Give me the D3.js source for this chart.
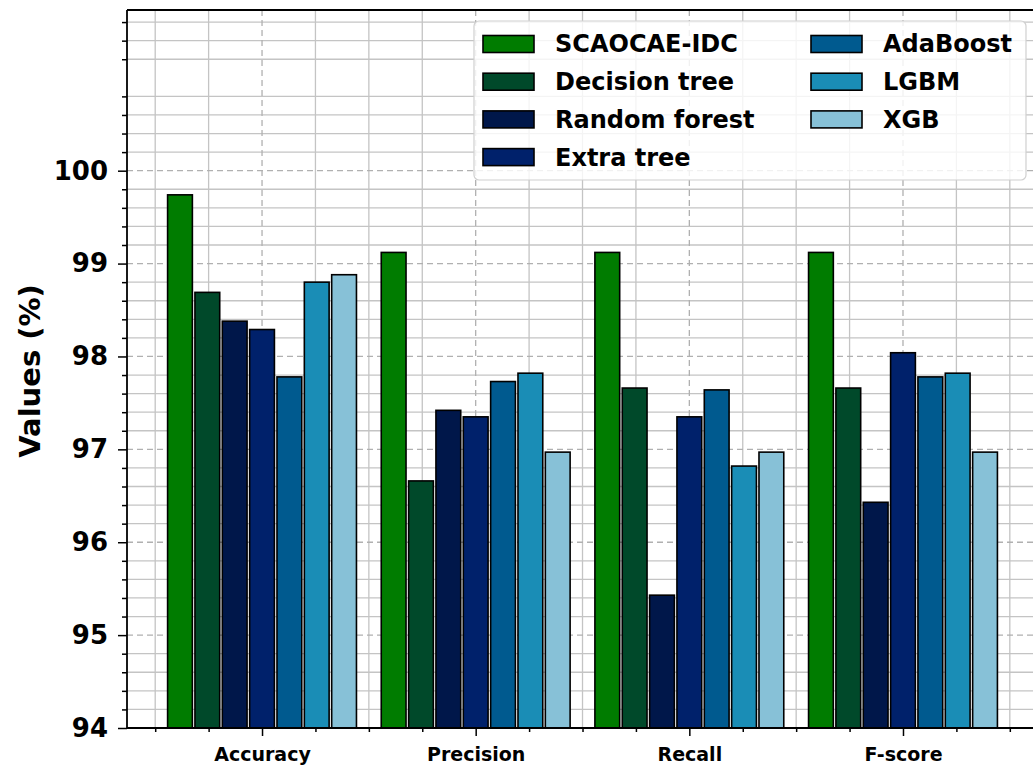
<!DOCTYPE html>
<html>
<head>
	<title>Model comparison bars</title>
	<script type="text/javascript" src="https://d3js.org/d3.v7.min.js"></script>
	<style>
		body { margin: 0; background: #fff; }
		svg text { font-family: "DejaVu Sans", sans-serif; font-weight: bold; fill: #000; }
	</style>
</head>
<body>
<svg id="chart" width="1033" height="766"></svg>

<script type="text/javascript">
// data
var categories = ["Accuracy", "Precision", "Recall", "F-score"];
var models = ["SCAOCAE-IDC", "Decision tree", "Random forest", "Extra tree", "AdaBoost", "LGBM", "XGB"];
var colors = ["#007c00", "#00492a", "#00174a", "#00216b", "#005a8f", "#1a8db6", "#87c1d7"];

var scaocae      = [99.74, 99.12, 99.12, 99.12];
var decisionTree = [98.69, 96.66, 97.66, 97.66];
var randomForest = [98.38, 97.42, 95.43, 96.43];
var extraTree    = [98.29, 97.35, 97.35, 98.04];
var adaBoost     = [97.78, 97.73, 97.64, 97.78];
var lgbm         = [98.80, 97.82, 96.82, 97.82];
var xgb          = [98.88, 96.97, 96.97, 96.97];

var yTicks = [94, 95, 96, 97, 98, 99, 100];

var series = [scaocae, decisionTree, randomForest, extraTree, adaBoost, lgbm, xgb];

var plotLeft = 127, plotTop = 10, plotBottom = 728;
var svg = d3.select("#chart");

// x is in category units, group centres at 0..3
var x = d3.scaleLinear().domain([-0.632, 3.66]).range([plotLeft, 1044]);
var y = d3.scaleLinear().domain([94, 101.73]).range([plotBottom, plotTop]);

var step = 0.128, barW = 0.116;

// grid lines
var grid = svg.append("g");
var yMinor = d3.range(94, 101.73, 0.2).filter(function(v){ return Math.abs(v - Math.round(v)) > 0.01; });
grid.selectAll(".ym").data(yMinor).enter().append("line")
	.attr("x1", plotLeft).attr("x2", 1033)
	.attr("y1", function(d){ return y(d); }).attr("y2", function(d){ return y(d); })
	.attr("stroke", "#c4c4c4").attr("stroke-width", 1.3);
var xMinor = d3.range(-0.5, 3.7, 0.25).filter(function(v){ return Math.abs(v - Math.round(v)) > 0.01; });
grid.selectAll(".xm").data(xMinor).enter().append("line")
	.attr("y1", plotTop).attr("y2", plotBottom)
	.attr("x1", function(d){ return x(d); }).attr("x2", function(d){ return x(d); })
	.attr("stroke", "#c4c4c4").attr("stroke-width", 1.3);
grid.selectAll(".yM").data(yTicks).enter().append("line")
	.attr("x1", plotLeft).attr("x2", 1033)
	.attr("y1", function(d){ return y(d); }).attr("y2", function(d){ return y(d); })
	.attr("stroke", "#b0b0b0").attr("stroke-width", 1.3).attr("stroke-dasharray", "6,4");
grid.selectAll(".xM").data(d3.range(categories.length)).enter().append("line")
	.attr("y1", plotTop).attr("y2", plotBottom)
	.attr("x1", function(d){ return x(d); }).attr("x2", function(d){ return x(d); })
	.attr("stroke", "#b0b0b0").attr("stroke-width", 1.3).attr("stroke-dasharray", "6,4");

// bars
series.forEach(function(vals, s){
	svg.append("g").selectAll("rect").data(vals).enter().append("rect")
		.attr("x", function(d, i){ return x(i + (s - 3) * step - barW / 2); })
		.attr("width", x(barW) - x(0))
		.attr("y", function(d){ return y(d); })
		.attr("height", function(d){ return plotBottom - y(d); })
		.attr("fill", colors[s])
		.attr("stroke", "#000").attr("stroke-width", 1.6);
});

// axes
var yAxis = svg.append("g").attr("transform", "translate(" + plotLeft + ",0)")
	.call(d3.axisLeft(y).tickValues(yTicks).tickSize(9).tickPadding(10).tickFormat(d3.format("d")));
yAxis.selectAll("text").style("font-size", "26px");
yAxis.select(".domain").attr("d", "M0," + plotBottom + "V" + plotTop);
svg.append("g").attr("transform", "translate(" + plotLeft + ",0)")
	.call(d3.axisLeft(y).tickValues(yMinor).tickSize(5).tickFormat(""))
	.select(".domain").remove();

var xAxis = svg.append("g").attr("transform", "translate(0," + plotBottom + ")")
	.call(d3.axisBottom(x).tickValues(d3.range(categories.length)).tickSize(8).tickPadding(12)
		.tickFormat(function(d){ return categories[d]; }));
xAxis.selectAll("text").style("font-size", "19px");
xAxis.select(".domain").attr("d", "M" + plotLeft + ",0H1033");
svg.append("g").attr("transform", "translate(0," + plotBottom + ")")
	.call(d3.axisBottom(x).tickValues(xMinor).tickSize(4).tickFormat(""))
	.select(".domain").remove();
svg.selectAll(".tick line").attr("stroke", "#000").attr("stroke-width", 1.5);
svg.selectAll(".domain").attr("stroke", "#000").attr("stroke-width", 1.8);

// top spine
svg.append("line").attr("x1", plotLeft).attr("x2", 1033).attr("y1", plotTop).attr("y2", plotTop)
	.attr("stroke", "#000").attr("stroke-width", 1.8);

// y label
svg.append("text")
	.attr("transform", "translate(30," + ((plotTop + plotBottom) / 2 + 2) + ") rotate(-90)")
	.attr("text-anchor", "middle").attr("dy", "0.35em")
	.style("font-size", "29px")
	.text("Values (%)");

// legend
var leg = svg.append("g");
leg.append("rect").attr("x", 474).attr("y", 21).attr("width", 552).attr("height", 159).attr("rx", 5)
	.attr("fill", "#fff").attr("fill-opacity", 0.82).attr("stroke", "#d0d0d0").attr("stroke-width", 1.2);
models.forEach(function(m, i){
	var col = i < 4 ? 0 : 1, row = i < 4 ? i : i - 4;
	var px = col === 0 ? 483 : 811, py = 44 + row * 37.7;
	leg.append("rect").attr("x", px).attr("y", py - 8.5).attr("width", 51).attr("height", 17)
		.attr("fill", colors[i]).attr("stroke", "#000").attr("stroke-width", 1.6);
	leg.append("text").attr("x", px + 72).attr("y", py).attr("dy", "0.35em")
		.style("font-size", "24px").text(m);
});
</script>
</body>
</html>
